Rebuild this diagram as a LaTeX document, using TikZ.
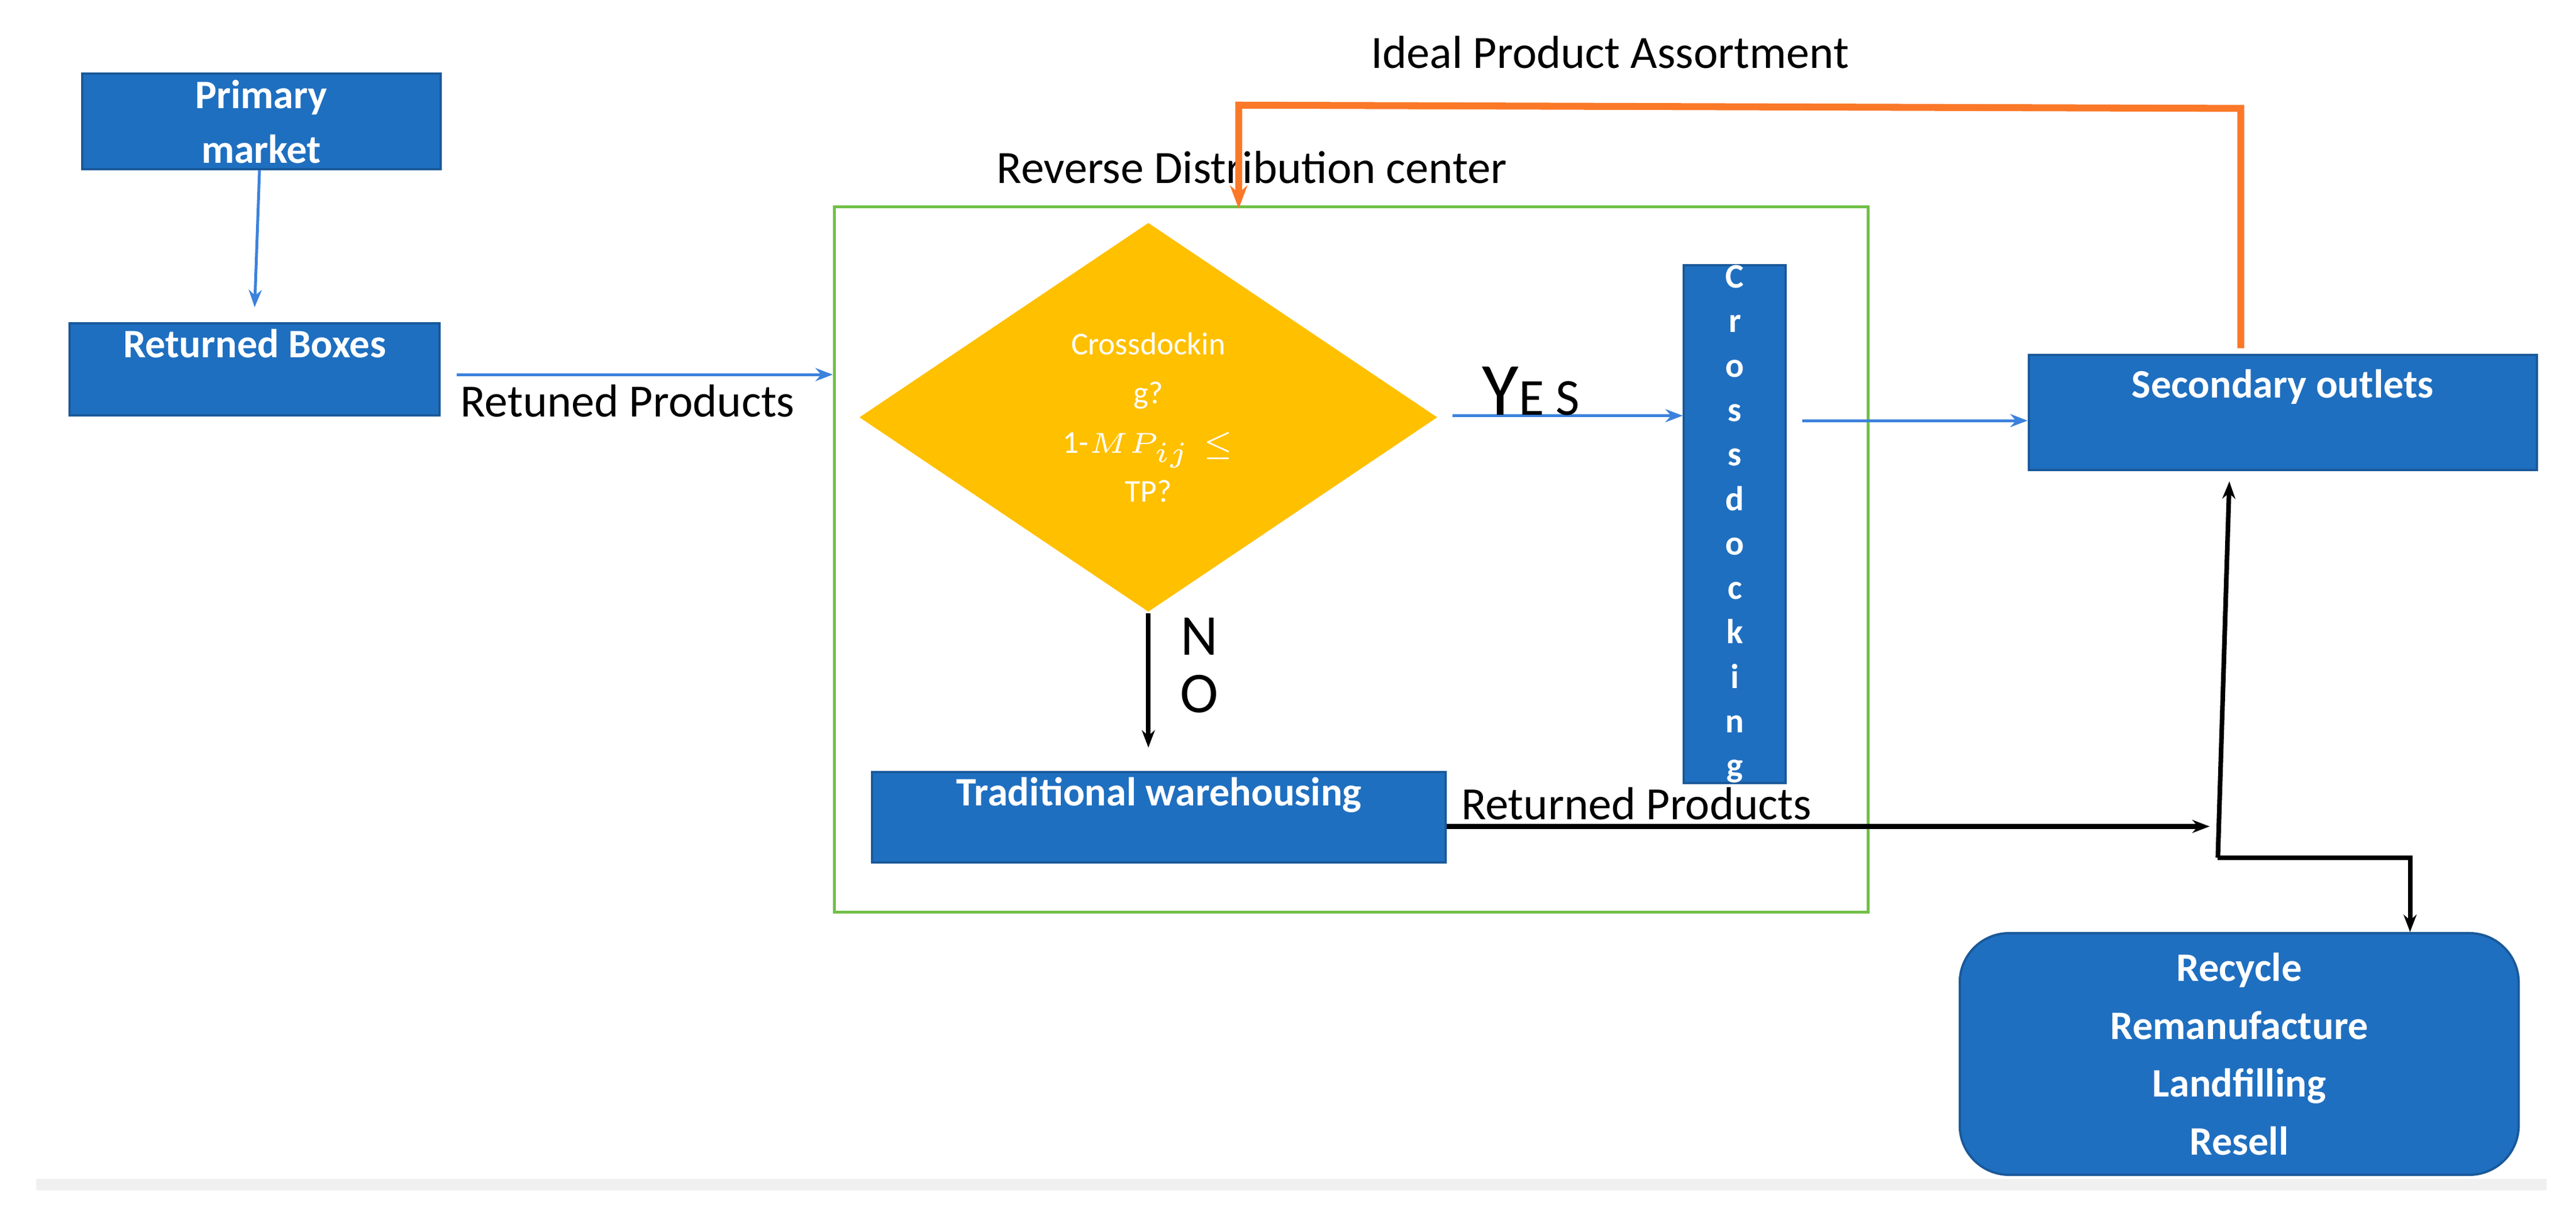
\documentclass[tikz,border=0pt]{standalone}
\usepackage{fontspec}
\setmainfont{Carlito}
\usetikzlibrary{shapes.geometric,arrows.meta,positioning}
\definecolor{boxblue}{RGB}{31,111,192}
\definecolor{decyellow}{RGB}{255,192,0}
\definecolor{loopgreen}{RGB}{112,192,72}
\definecolor{feedorange}{RGB}{250,120,40}
\definecolor{linkblue}{RGB}{60,130,220}
\begin{document}
\begin{tikzpicture}[x=0.01cm, y=-0.01cm, >=Stealth,
    box/.style={draw=boxblue!80!black, fill=boxblue, text=white, font=\fontsize{7}{8}\selectfont\bfseries, align=center, inner sep=0pt},
    lbl/.style={font=\fontsize{8}{9}\selectfont, inner sep=1pt},
    bluearrow/.style={->, linkblue, line width=0.5pt, >={Stealth[length=3pt]}},
    blackarrow/.style={->, black, line width=0.8pt, >={Stealth[length=3pt]}}]
    \useasboundingbox (0,0) rectangle (1568,746);

    % Left boxes
    \node[box, minimum width=2.18cm, minimum height=0.58cm] (primary) at (159,74) {Primary\\[1.5pt]market};
    \node[box, minimum width=2.25cm, minimum height=0.56cm, anchor=north] (boxes) at (155,196) {Returned Boxes\\[1pt]};
    \draw[bluearrow] (primary) -- ([yshift=0.09cm]boxes.north);

    % Reverse distribution centre
    \node[draw=loopgreen, line width=0.5pt, minimum width=6.29cm, minimum height=4.29cm] (rdc) at (822.5,340.5) {};
    \node[lbl] at (762,102) {Reverse Distribution center};
    \coordinate (rb) at (278,228);
    \draw[bluearrow] (rb) -- (rdc.west |- rb);
    \node[lbl, below] at (382,230) {Retuned Products};

    % Decision
    \node[diamond, fill=decyellow, minimum width=3.52cm, minimum height=2.37cm, inner sep=0pt] (decide) at (699,254) {};
    \node[text=white, font=\fontsize{5.5}{7}\selectfont, align=center] at (decide) {Crossdockin\\[1.5pt]g?\\[1.5pt]1-$MP_{ij}\le$\\[1.5pt]TP?};

    \node[box, minimum width=0.62cm, minimum height=3.12cm, font=\fontsize{6}{7.7}\selectfont\bfseries] (cross) at (1056,319) {C\\r\\o\\s\\s\\d\\o\\c\\k\\i\\n\\g};
    \coordinate (yes) at (884,253);
    \draw[bluearrow] (yes) -- (cross.west |- yes);
    \node[font=\fontsize{13}{14}\selectfont] at (932,238) {Y{\fontsize{9}{10}\selectfont E S}};

    \node[box, minimum width=3.49cm, minimum height=0.55cm] (trad) at (705.5,497.5) {Traditional warehousing\\[1pt]};
    \coordinate (no) at (699,455);
    \draw[blackarrow] (decide.south) -- (no);
    \node[font=\fontsize{10}{11}\selectfont, align=center] at (730,405) {N\\[-1pt]O};

    % Outlets
    \node[box, minimum width=3.09cm, minimum height=0.70cm] (outlets) at (1389.5,251) {Secondary outlets\\[2pt]};
    \coordinate (cx) at (1097,256);
    \draw[bluearrow] (cx) -- (outlets.west |- cx);

    % Feedback
    \coordinate (fb) at (1364,66);
    \coordinate (fs) at (1364,212);
    \coordinate (fl) at (754,64);
    \coordinate (fe) at (754,127);
    \draw[->, feedorange, line width=1.2pt, >={Stealth[length=4pt]}] (fs) -- (fb) -- (fl) -- (fe);
    \node[lbl] at (980,32) {Ideal Product Assortment};

    % End of life
    \node[box, rounded corners=0.3cm, minimum width=3.40cm, minimum height=1.47cm] (eol) at (1363,641.5) {Recycle\\[2pt]Remanufacture\\[2pt]Landfilling\\[2pt]Resell};
    \coordinate (split) at (1350,522);
    \coordinate (down) at (1467,522);
    \coordinate (merge) at (1345,503);
    \coordinate (up) at (1357,293);
    \draw[blackarrow] (trad.east |- merge) -- (merge);
    \node[lbl] at (996,489) {Returned Products};
    \draw[blackarrow] (split) -- (up);
    \draw[blackarrow] (split) -- (down) -- (eol.north -| down);

    \draw[black!6, line width=2pt] (22,721) -- (1550,721);
\end{tikzpicture}
\end{document}
